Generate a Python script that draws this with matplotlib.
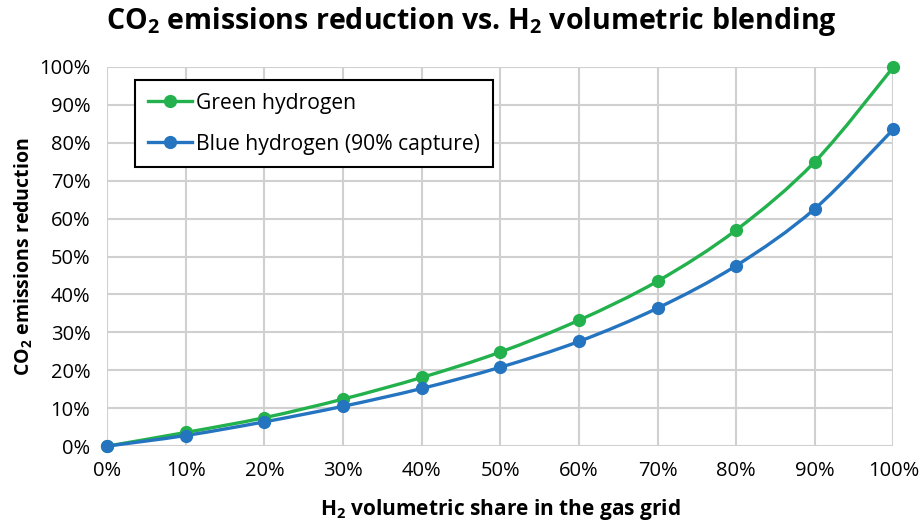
import numpy as np
import matplotlib
matplotlib.use("Agg")
import matplotlib.pyplot as plt
from matplotlib.path import Path
from matplotlib.patches import PathPatch
from matplotlib.lines import Line2D

plt.rcParams['font.family'] = ['Open Sans', 'DejaVu Sans']
plt.rcParams['mathtext.fontset'] = 'custom'
plt.rcParams['mathtext.rm'] = 'Open Sans'
plt.rcParams['mathtext.bf'] = 'Open Sans:bold'

share = [0, 10, 20, 30, 40, 50, 60, 70, 80, 90, 100]
green = [0, 3.6, 7.5, 12.4, 18.1, 24.8, 33.2, 43.5, 57.0, 75.0, 100.0]
blue = [0, 2.8, 6.4, 10.5, 15.2, 20.8, 27.6, 36.4, 47.6, 62.6, 83.6]
xticks = [0, 10, 20, 30, 40, 50, 60, 70, 80, 90, 100]
yticks = [0, 10, 20, 30, 40, 50, 60, 70, 80, 90, 100]

GREEN = '#22b14c'
BLUE = '#2474c0'

fig = plt.figure(figsize=(9.23, 5.23), dpi=100)
ax = fig.add_axes([0.116, 0.147, 0.852, 0.725])


def smooth_path(x, y):
    x = np.asarray(x, float); y = np.asarray(y, float)
    n = len(x)
    verts = [(x[0], y[0])]
    codes = [Path.MOVETO]
    for i in range(n - 1):
        p0 = (x[i - 1], y[i - 1]) if i > 0 else (x[i], y[i])
        p1 = (x[i], y[i]); p2 = (x[i + 1], y[i + 1])
        p3 = (x[i + 2], y[i + 2]) if i + 2 < n else p2
        c1 = (p1[0] + (p2[0] - p0[0]) / 6, p1[1] + (p2[1] - p0[1]) / 6)
        c2 = (p2[0] - (p3[0] - p1[0]) / 6, p2[1] - (p3[1] - p1[1]) / 6)
        verts += [c1, c2, p2]
        codes += [Path.CURVE4] * 3
    return Path(verts, codes)


for vals, col in [(green, GREEN), (blue, BLUE)]:
    patch = PathPatch(smooth_path(share, vals), facecolor='none', edgecolor=col,
                      lw=2.4, zorder=3, clip_on=False, capstyle='round')
    ax.add_patch(patch)
    ax.plot(share, vals, linestyle='none', marker='o', ms=8.5, color=col,
            zorder=4, clip_on=False)

ax.set_xlim(0, 100)
ax.set_ylim(0, 100)
ax.set_xticks(xticks)
ax.set_yticks(yticks)
ax.set_xticklabels([f'{t}%' for t in xticks], fontsize=14.5)
ax.set_yticklabels([f'{t}%' for t in yticks], fontsize=14.5)
ax.tick_params(length=0, pad=12)
ax.tick_params(axis='x', pad=11)
ax.grid(True, color='#d0d0d0', lw=1.5)
ax.set_axisbelow(True)
for s in ax.spines.values():
    s.set_visible(False)

ax.set_xlabel(r'H$_\mathbf{2}$ volumetric share in the gas grid', fontsize=15,
              fontweight='bold', labelpad=11)
ax.set_ylabel(r'CO$_\mathbf{2}$ emissions reduction', fontsize=14,
              fontweight='bold', labelpad=3)
fig.suptitle(r'CO$_\mathbf{2}$ emissions reduction vs. H$_\mathbf{2}$ volumetric blending',
             fontsize=20.5, fontweight='bold', x=0.511, y=0.99)

handles = [Line2D([], [], color=GREEN, lw=2.4, marker='o', ms=8.5),
           Line2D([], [], color=BLUE, lw=2.4, marker='o', ms=8.5)]
leg = ax.legend(handles, ['Green hydrogen', 'Blue hydrogen (90% capture)'],
                loc='upper left', bbox_to_anchor=(0.0356, 0.966), fontsize=15.2,
                frameon=True, fancybox=False, edgecolor='black', framealpha=1,
                handlelength=2.1, labelspacing=0.95, borderpad=0.6,
                handletextpad=0.2, borderaxespad=0)
leg.get_frame().set_linewidth(1.5)

fig.savefig('out.png', dpi=100)
